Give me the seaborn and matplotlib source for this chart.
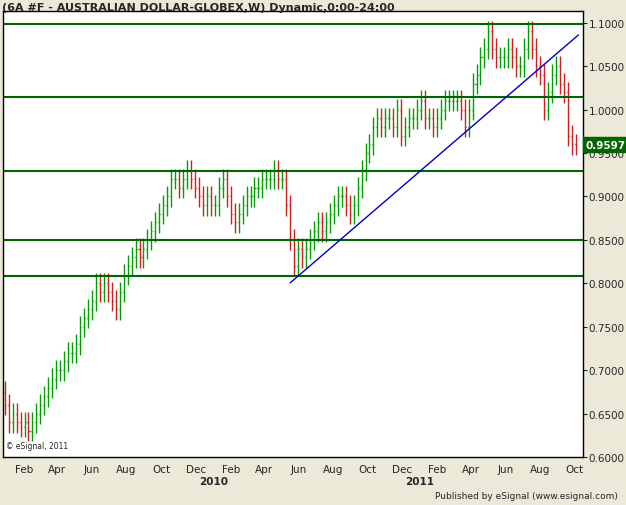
import matplotlib
matplotlib.use("Agg")
import matplotlib.pyplot as plt
import matplotlib.dates as mdates
import numpy as np
import pandas as pd
import seaborn as sns

closes = [0.66,0.64,0.65,0.64,0.635, 0.64,0.63,0.64,0.65, 0.66,0.67,0.68,0.69,0.70,0.70,
          0.71,0.72,0.72,0.73, 0.75,0.76,0.77,0.78, 0.80,0.79,0.80,0.79, 0.78,0.77,0.79,0.81,0.82,
          0.83,0.84,0.83,0.84, 0.85,0.86,0.87,0.88, 0.89,0.90,0.92,0.92, 0.91,0.92,0.93,0.92,0.91,
          0.90,0.89,0.90,0.89,0.89,
          0.91,0.92,0.90,0.88, 0.87,0.88,0.89,0.90, 0.90,0.91,0.91,0.92,0.92, 0.92,0.93,0.92,0.92,
          0.89,0.85,0.82,0.84,0.83, 0.84,0.85,0.86,0.87, 0.86,0.87,0.88,0.89,0.90, 0.90,0.89,0.88,0.89,
          0.91,0.93,0.95,0.96, 0.98,0.99,0.98,0.99,0.99, 0.98,1.00,0.97,0.98, 0.99,0.99,1.00,1.01,
          0.99,0.99,0.98,0.99,1.00, 1.01,1.01,1.01,1.01, 1.00,0.98,1.00,1.03, 1.04,1.06,1.07,1.09,
          1.07,1.06,1.06,1.06, 1.07,1.06,1.05,1.05, 1.07,1.09,1.07,1.05, 1.04,1.00,1.02,1.04,1.05,
          1.03,1.02,0.97,0.96,0.9597]
first_open = 0.675
wick = 0.012
last_price = 0.9597
hlines_levels = [1.0985, 1.0147, 0.9295, 0.850, 0.8085]
trend_dates = ["2010-05-17", "2011-10-08"]
trend_prices = [0.8005, 1.086]

dates = pd.date_range("2008-12-29", periods=len(closes), freq="W-MON")
closes = np.array(closes)
opens = np.concatenate([[first_open], closes[:-1]])
highs = np.maximum(opens, closes) + wick
lows = np.minimum(opens, closes) - wick

sns.set_style("white")
fig = plt.figure(figsize=(6.26, 5.06), dpi=100, facecolor="#ECE9D8")
ax = fig.add_axes([3/626, 1-458/506, 580/626, 446/506])
ax.set_facecolor("white")
x = mdates.date2num(dates)
cols = np.where(closes >= opens, "#00A000", "#D02020")
ax.vlines(x, lows, highs, colors=cols, lw=1)
ax.hlines(opens, x-1.8, x, colors=cols, lw=1)
ax.hlines(closes, x, x+1.8, colors=cols, lw=1)
for lv in hlines_levels:
    ax.axhline(lv, color="#006400", lw=1.5)
sns.lineplot(x=mdates.date2num(pd.to_datetime(trend_dates)), y=trend_prices, ax=ax, color="#0000C0", lw=1)

ax.set_ylim(0.6, 1.1135)
ax.set_xlim(x[0]-3, x[-1]+13)
ax.yaxis.tick_right()
ax.set_yticks(np.arange(0.6, 1.101, 0.05))
ax.yaxis.set_major_formatter(plt.FuncFormatter(lambda v, p: f"{v:.4f}"))
ax.tick_params(axis="y", labelsize=7.5, length=3, pad=1)
ax.xaxis.set_major_locator(mdates.MonthLocator(bymonth=[2,4,6,8,10,12]))
ax.xaxis.set_major_formatter(mdates.DateFormatter("%b"))
ax.tick_params(axis="x", labelsize=7.5, length=3, pad=2)
for s in ax.spines.values():
    s.set_color("black"); s.set_linewidth(1)
for yr in ["2010", "2011"]:
    ax.text(mdates.date2num(pd.Timestamp(yr+"-01-01")), -0.054, yr, transform=ax.get_xaxis_transform(),
            ha="center", va="center", fontsize=7.5, fontweight="bold")
ax.text(1.004, last_price, f"{last_price:.4f}", transform=ax.get_yaxis_transform(), ha="left", va="center",
        fontsize=7.5, fontweight="bold", color="white",
        bbox=dict(boxstyle="square,pad=0.2", fc="#006400", ec="#006400"))
fig.text(2/626, 1-3/506, "(6A #F - AUSTRALIAN DOLLAR-GLOBEX,W) Dynamic,0:00-24:00", ha="left", va="top",
         fontsize=8, fontweight="bold")
ax.text(0.005, 0.015, "© eSignal, 2011", transform=ax.transAxes, fontsize=5.5, ha="left", va="bottom")
fig.text(618/626, 1-497/506, "Published by eSignal (www.esignal.com)", ha="right", va="center", fontsize=6.5)
fig.savefig("out.png", dpi=100, facecolor=fig.get_facecolor())
